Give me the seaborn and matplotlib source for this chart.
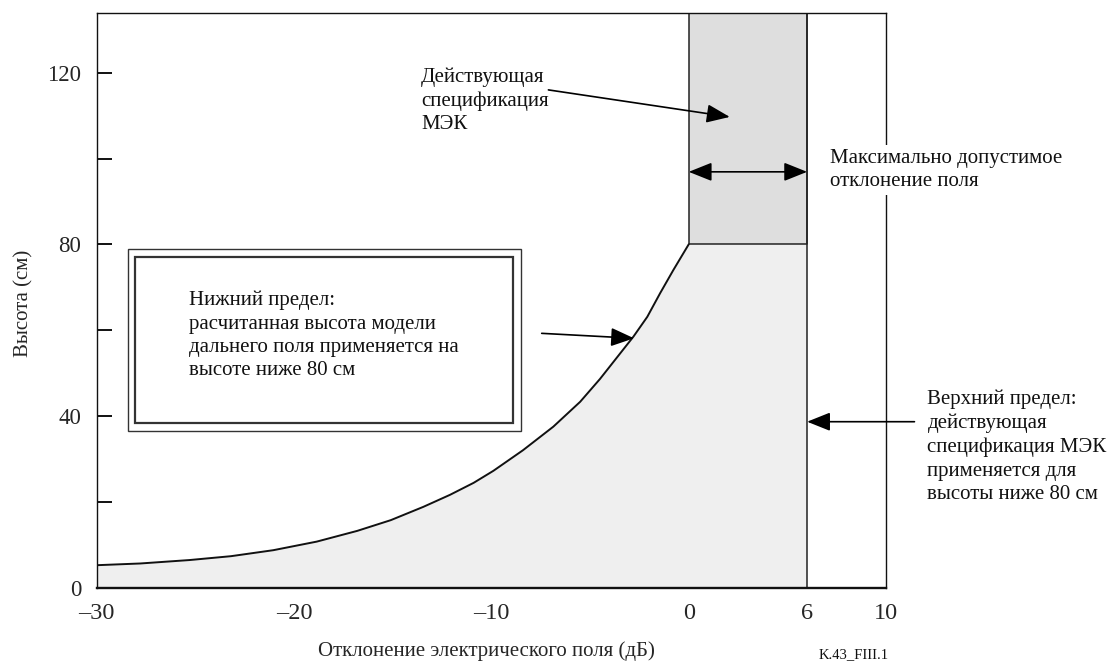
import matplotlib

matplotlib.use("Agg")
import matplotlib.pyplot as plt
import pandas as pd
import seaborn as sns
from matplotlib.patches import Rectangle

# curve: computed lower limit (far-field model height)
CURVE_DB = [-30, -27.8, -25.3, -23.2, -21.05, -18.85, -16.8, -15.1, -13.45,
            -12.1, -10.9, -9.9, -8.4, -6.86, -5.5, -4.5, -2.8, -2.1,
            -1.45, -0.78, 0]
CURVE_CM = [5.2, 5.6, 6.4, 7.3, 8.7, 10.7, 13.2, 15.7, 18.8,
            21.6, 24.4, 27.2, 32.0, 37.5, 43.3, 48.6, 58.5, 63.1,
            68.6, 74.0, 80]

# IEC spec band and upper limit
SPEC_DB = [0, 6]
SPEC_FLOOR_CM = 80
X_LIMITS = (-30, 10)
Y_TOP = 134

X_TICKS = [-30, -20, -10, 0, 6, 10]
X_TICK_LABELS = ["–30", "–20", "–10", "0", "6", "10"]
Y_TICKS = [0, 40, 80, 120]
Y_MINOR = [20, 60, 100]

LOWER_TEXT = ("Нижний предел:\nрасчитанная высота модели\n"
              "дальнего поля применяется на\nвысоте ниже 80 см")
SPEC_TEXT = "Действующая\nспецификация\nМЭК"
DEV_TEXT = "Максимально допустимое\nотклонение поля"
UPPER_TEXT = ("Верхний предел:\nдействующая\nспецификация МЭК\n"
              "применяется для\nвысоты ниже 80 см")

sns.set_theme(style="white")
plt.rcParams["font.family"] = ["Liberation Serif", "DejaVu Serif"]
plt.rcParams["axes.unicode_minus"] = False

curve = pd.DataFrame({"db": CURVE_DB, "cm": CURVE_CM})

fig = plt.figure(figsize=(11.12, 6.64), dpi=100)
ax = fig.add_axes([0.087, 0.1152, 0.7098, 0.8657])

light = "#efefef"
dark = "#dedede"
ink = "#111111"
LS = 1.31

# shaded region under the curve, continuing under the spec band
fill_x = CURVE_DB + [SPEC_DB[1]]
fill_y = CURVE_CM + [SPEC_FLOOR_CM]
ax.fill_between(fill_x, 0, fill_y, facecolor=light, edgecolor="none", zorder=1)
ax.fill_between(SPEC_DB, SPEC_FLOOR_CM, Y_TOP, facecolor=dark,
                edgecolor="#222222", linewidth=1.1, zorder=2)
ax.axvline(SPEC_DB[1], color="#222222", linewidth=1.1, zorder=2)

sns.lineplot(data=curve, x="db", y="cm", ax=ax, color=ink, linewidth=1.4,
             sort=False, zorder=3)

ax.set_xlim(*X_LIMITS)
ax.set_ylim(0, Y_TOP)

ax.set_xticks(X_TICKS)
ax.set_xticklabels(X_TICK_LABELS, fontsize=17.5)
ax.set_yticks(Y_TICKS)
ax.set_yticklabels([str(v) for v in Y_TICKS], fontsize=16.5)
ax.set_yticks(Y_MINOR, minor=True)
ax.tick_params(axis="both", which="both", direction="in", length=10.8,
               width=1.4, color=ink, pad=11, left=True, bottom=True)
for tick in ax.xaxis.get_major_ticks():
    if tick.get_loc() in (-30, -20, 6, 10):
        tick.tick1line.set_visible(False)
ax.yaxis.get_major_ticks()[0].tick1line.set_visible(False)

for side, lw in {"left": 1.0, "bottom": 1.7, "top": 1.0, "right": 1.0}.items():
    ax.spines[side].set_visible(True)
    ax.spines[side].set_color(ink)
    ax.spines[side].set_linewidth(lw)

ax.set_xlabel("Отклонение электрического поля (дБ)", fontsize=15, va="center")
ax.xaxis.set_label_coords(0.494, -0.110)
ax.set_ylabel("Высота (см)", fontsize=15)
ax.yaxis.set_label_coords(-0.080, 0.495)

# double-framed note box
ax.add_patch(Rectangle((-28.44, 36.6), 19.94, 42.2, fill=False,
                       edgecolor="#333333", linewidth=1.0, zorder=4))
ax.add_patch(Rectangle((-28.06, 38.3), 19.18, 38.7, fill=False,
                       edgecolor="#333333", linewidth=1.6, zorder=4))
ax.text(-25.32, 58.7, LOWER_TEXT, fontsize=15, ha="left", va="center",
        linespacing=LS, color=ink, zorder=5)

arrow = dict(arrowstyle="-|>,head_length=0.95,head_width=0.38",
             mutation_scale=15, color="black", linewidth=1.2,
             shrinkA=0, shrinkB=0)
ax.annotate("", xy=(-2.77, 58.1), xytext=(-7.45, 59.25), arrowprops=arrow,
            zorder=5)

ax.text(-13.56, 113.4, SPEC_TEXT, fontsize=15, ha="left", va="center",
        linespacing=LS, color=ink, zorder=5)
ax.annotate("", xy=(2.08, 109.7), xytext=(-7.11, 116.0), arrowprops=arrow,
            zorder=5)

double = dict(arrowstyle="<|-|>,head_length=0.95,head_width=0.38",
              mutation_scale=15, color="black", linewidth=1.2,
              shrinkA=0, shrinkB=0)
ax.annotate("", xy=(SPEC_DB[1], 96.9), xytext=(SPEC_DB[0], 96.9),
            arrowprops=double, zorder=5)

ax.text(7.14, 97.3, DEV_TEXT, fontsize=15, ha="left", va="center",
        linespacing=LS, color=ink, zorder=6, clip_on=False,
        bbox=dict(facecolor="white", edgecolor="none", pad=3))

ax.annotate("", xy=(SPEC_DB[1], 38.65), xytext=(11.44, 38.65),
            arrowprops=arrow, annotation_clip=False, zorder=5)
fig.text(0.834, 0.3268, UPPER_TEXT, fontsize=15, ha="left", va="center",
         linespacing=LS, color=ink)

fig.text(0.768, 0.0136, "K.43_FIII.1", fontsize=10.5, ha="center",
         va="center", color=ink)

fig.savefig("out.png", dpi=100)
